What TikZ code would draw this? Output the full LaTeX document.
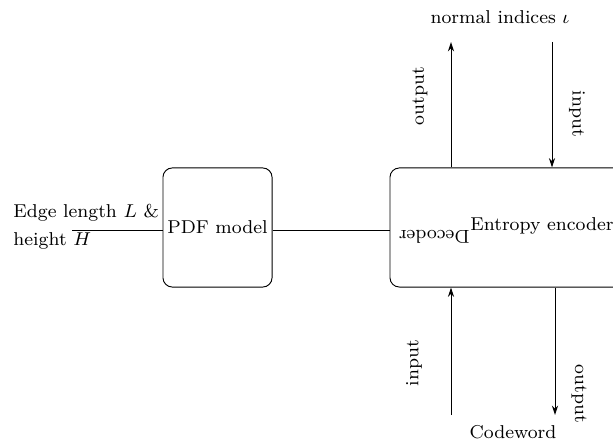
\documentclass[tikz,border=0pt]{standalone}
\usetikzlibrary{arrows.meta}
\begin{document}
\begin{tikzpicture}[x=0.43pt,y=-0.43pt,
  every node/.style={font=\fontsize{8}{10}\selectfont},
  block/.style={draw,rounded corners=4pt,inner sep=0pt},
  flow/.style={-{Stealth[length=4pt,width=2.6pt]}},
  side/.style={inner sep=0pt}]
\useasboundingbox (0,0) rectangle (613,445);
\clip (0,0) rectangle (613,445);

% blocks
\node[block,minimum width=46.9pt,minimum height=51.2pt] (pdf) at (217.5,227.5) {PDF model};
\node[block,minimum width=107.5pt,minimum height=51.2pt] (enc) at (515,227.5) {};
\node[side,anchor=base west] (enctxt) at (470,231) {Entropy encoder};
% upside-down label: its base west anchor is the visual right end
\node[side,rotate=180,anchor=base west] (dectxt) at (470,231) {Decoder};

% input to the PDF model
\node[side,anchor=base west] (geo1) at (13,218) {Edge length $L$ \&};
\node[side,anchor=base west] (geo2) at (13,246) {height $H$};
\coordinate (geoend) at (72,230);
\draw (geoend) -- (pdf.west |- geoend);
\draw (pdf.east |- geoend) -- (enc.west |- geoend);

% upper connections
\coordinate (topout) at (451,42);
\coordinate (topin) at (552,42);
\draw[flow] (enc.north -| topout) -- (topout);
\draw[flow] (topin) -- (enc.north -| topin);
\node[side] (idx) at (500,17) {normal indices $\iota$};
\node[side,rotate=90] (lblto) at (420,96) {output};
\node[side,rotate=-90] (lblti) at (577,114) {input};

% lower connections
\coordinate (botin) at (451,415);
\coordinate (botout) at (555,415);
\draw[flow] (botin) -- (enc.south -| botin);
\draw[flow] (enc.south -| botout) -- (botout);
\node[side] (cw) at (513,432) {Codeword};
\node[side,rotate=90] (lblbi) at (414,363) {input};
\node[side,rotate=-90] (lblbo) at (579,394) {output};
\end{tikzpicture}
\end{document}
